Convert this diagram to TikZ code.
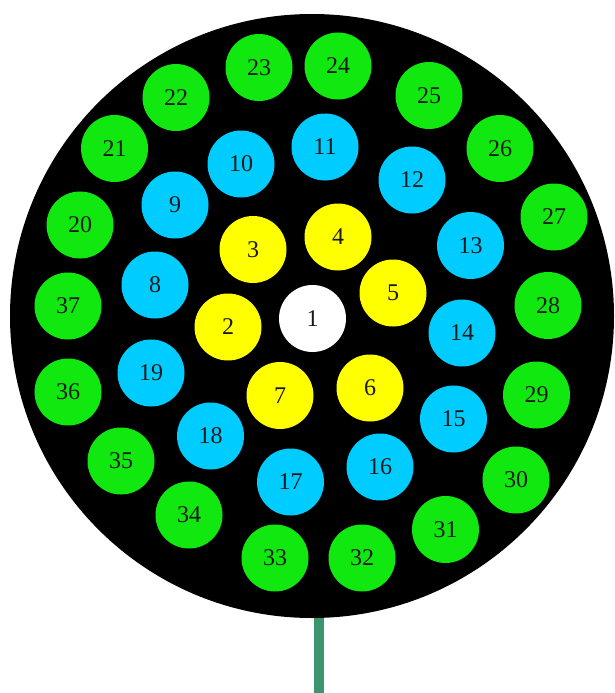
\documentclass[tikz,border=0pt]{standalone}
\usepackage{fontspec}
\setmainfont{Liberation Serif}
\definecolor{wiregreen}{RGB}{16,232,16}
\definecolor{wireblue}{RGB}{0,204,255}
\definecolor{wireyellow}{RGB}{255,255,0}
\definecolor{stemgreen}{RGB}{58,150,110}

\begin{document}
\begin{tikzpicture}[x=1pt, y=-1pt,
  every node/.style={font=\fontsize{24}{24}\selectfont},
  wire/.style={circle, inner sep=0pt, minimum size=67pt, text=black!90},
  core/.style={wire, fill=white},
  inner/.style={wire, fill=wireyellow},
  middle/.style={wire, fill=wireblue},
  outer/.style={wire, fill=wiregreen}]
\useasboundingbox (0,0) rectangle (614,693);
\node[circle, fill=black, inner sep=0pt, minimum size=604pt] (jacket) at (312,316) {};
% center and first ring
\node[core] (c1) at (312.5,318.5) {1};
\node[inner] (c2) at (228,327) {2};
\node[inner] (c3) at (253,249.5) {3};
\node[inner] (c4) at (338,237) {4};
\node[inner] (c5) at (393,293) {5};
\node[inner] (c6) at (370,388) {6};
\node[inner] (c7) at (280,395.5) {7};
% second ring
\node[middle] (c8) at (155,285) {8};
\node[middle] (c9) at (175,205) {9};
\node[middle] (c10) at (241,164) {10};
\node[middle] (c11) at (325,147) {11};
\node[middle] (c12) at (412,180) {12};
\node[middle] (c13) at (470.5,245.5) {13};
\node[middle] (c14) at (462,333) {14};
\node[middle] (c15) at (453.5,419) {15};
\node[middle] (c16) at (380,467) {16};
\node[middle] (c17) at (290.5,482) {17};
\node[middle] (c18) at (210.5,436) {18};
\node[middle] (c19) at (151,373) {19};
% outer ring
\node[outer] (c20) at (80,225) {20};
\node[outer] (c21) at (114.5,148.5) {21};
\node[outer] (c22) at (176,97.5) {22};
\node[outer] (c23) at (259,67.5) {23};
\node[outer] (c24) at (338,66) {24};
\node[outer] (c25) at (429,95.5) {25};
\node[outer] (c26) at (500,148.5) {26};
\node[outer] (c27) at (554,217) {27};
\node[outer] (c28) at (548,305.5) {28};
\node[outer] (c29) at (536.5,395) {29};
\node[outer] (c30) at (516,480) {30};
\node[outer] (c31) at (445.5,529.5) {31};
\node[outer] (c32) at (362,558) {32};
\node[outer] (c33) at (275,558) {33};
\node[outer] (c34) at (189,515) {34};
\node[outer] (c35) at (121,461) {35};
\node[outer] (c36) at (68,392) {36};
\node[outer] (c37) at (68,306) {37};
% lead
\coordinate (stemtop) at (319,618);
\coordinate (stemend) at (319,693);
\draw[stemgreen, line width=10pt] (stemtop) -- (stemend);
\end{tikzpicture}
\end{document}
